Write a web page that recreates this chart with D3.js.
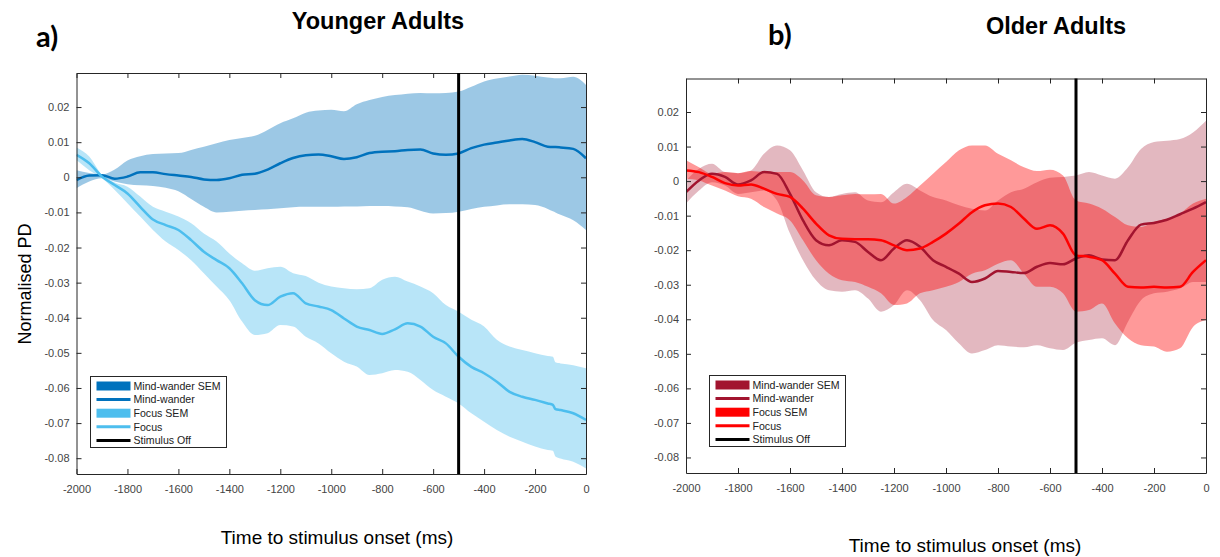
<!DOCTYPE html>
<html>
<head>
<meta charset="utf-8">
<script src="https://cdn.jsdelivr.net/npm/d3@7"></script>
<style>
  html, body { margin: 0; padding: 0; background: #fff; }
  svg { display: block; }
  .tick text { font-family: "Liberation Sans", Arial, sans-serif; font-size: 11px; fill: #444; }
  .tick line, .domain { stroke: #262626; }
</style>
</head>
<body>
<svg id="chart" width="1220" height="557"></svg>
<script>
// ---------- shared axis ticks ----------
const xTickValues = [-2000, -1800, -1600, -1400, -1200, -1000, -800, -600, -400, -200, 0];
const xTickLabels = ["-2000", "-1800", "-1600", "-1400", "-1200", "-1000", "-800", "-600", "-400", "-200", "0"];
const yTickValues = [0.02, 0.01, 0, -0.01, -0.02, -0.03, -0.04, -0.05, -0.06, -0.07, -0.08];
const yTickLabels = ["0.02", "0.01", "0", "-0.01", "-0.02", "-0.03", "-0.04", "-0.05", "-0.06", "-0.07", "-0.08"];
const stimulusOff = -500;
const legendLabels = ["Mind-wander SEM", "Mind-wander", "Focus SEM", "Focus", "Stimulus Off"];

// ---------- a) Younger adults ----------
const timeYoung = [-2000, -1950, -1900, -1850, -1800, -1750, -1700, -1650, -1600, -1550,
  -1500, -1450, -1400, -1350, -1300, -1250, -1200, -1150, -1100, -1050,
  -1000, -950, -900, -850, -800, -750, -700, -650, -600, -550,
  -500, -450, -400, -350, -300, -250, -200, -150, -130, -120, -100, -50, 0];
const youngMW = [-0.0008, 0.0005, 0.0006, -0.0004, 0.0002, 0.0014, 0.0014, 0.0009, 0.0005, 0.0001,
  -0.0006, -0.0008, -0.0003, 0.0007, 0.0010, 0.0022, 0.0040, 0.0055, 0.0063, 0.0065,
  0.0060, 0.0052, 0.0057, 0.0069, 0.0073, 0.0074, 0.0078, 0.0079, 0.0068, 0.0064,
  0.0068, 0.0083, 0.0093, 0.0099, 0.0105, 0.0109, 0.0100, 0.0087, 0.0086, 0.0086, 0.0085, 0.0081, 0.0054];
const youngMWUpper = [0.0020, 0.0012, 0.0008, 0.0022, 0.0048, 0.0060, 0.0066, 0.0068, 0.0069, 0.0078,
  0.0087, 0.0097, 0.0106, 0.0112, 0.0118, 0.0135, 0.0154, 0.0168, 0.0184, 0.0190,
  0.0192, 0.0188, 0.0208, 0.0220, 0.0229, 0.0234, 0.0238, 0.0240, 0.0239, 0.0240,
  0.0244, 0.0258, 0.0273, 0.0281, 0.0287, 0.0292, 0.0289, 0.0284, 0.0283, 0.0282, 0.0282, 0.0286, 0.0263];
const youngMWLower = [-0.0031, -0.0012, -0.0003, -0.0012, -0.0020, -0.0023, -0.0025, -0.0030, -0.0040, -0.0062,
  -0.0084, -0.0100, -0.0098, -0.0095, -0.0093, -0.0091, -0.0088, -0.0085, -0.0084, -0.0084,
  -0.0084, -0.0083, -0.0083, -0.0082, -0.0082, -0.0083, -0.0085, -0.0095, -0.0103, -0.0102,
  -0.0098, -0.0090, -0.0084, -0.0080, -0.0077, -0.0077, -0.0079, -0.0090, -0.0097, -0.0100, -0.0107, -0.0122, -0.0150];
const youngFocus = [0.0064, 0.0040, 0.0002, -0.0022, -0.0046, -0.0084, -0.0120, -0.0136, -0.0150, -0.0179,
  -0.0212, -0.0236, -0.0259, -0.0302, -0.0350, -0.0364, -0.0340, -0.0330, -0.0359, -0.0368,
  -0.0378, -0.0402, -0.0425, -0.0435, -0.0446, -0.0433, -0.0416, -0.0425, -0.0454, -0.0473,
  -0.0511, -0.0540, -0.0558, -0.0582, -0.0611, -0.0625, -0.0634, -0.0644, -0.0648, -0.0660, -0.0663, -0.0672, -0.0691];
const youngFocusUpper = [0.0085, 0.0059, 0.0007, -0.0015, -0.0027, -0.0055, -0.0084, -0.0098, -0.0112, -0.0131,
  -0.0160, -0.0183, -0.0217, -0.0245, -0.0266, -0.0259, -0.0255, -0.0273, -0.0281, -0.0300,
  -0.0311, -0.0316, -0.0319, -0.0316, -0.0292, -0.0283, -0.0297, -0.0311, -0.0330, -0.0364,
  -0.0383, -0.0406, -0.0425, -0.0463, -0.0482, -0.0492, -0.0501, -0.0509, -0.0511, -0.0527, -0.0530, -0.0535, -0.0544];
const youngFocusLower = [0.0049, 0.0020, -0.0003, -0.0036, -0.0074, -0.0112, -0.0150, -0.0183, -0.0207, -0.0236,
  -0.0273, -0.0311, -0.0350, -0.0411, -0.0449, -0.0444, -0.0421, -0.0425, -0.0454, -0.0473,
  -0.0501, -0.0525, -0.0539, -0.0563, -0.0558, -0.0549, -0.0554, -0.0577, -0.0606, -0.0625,
  -0.0644, -0.0672, -0.0696, -0.0720, -0.0739, -0.0753, -0.0767, -0.0777, -0.0779, -0.0795, -0.0801, -0.0810, -0.0829];

// ---------- b) Older adults ----------
const timeOld = [-2000, -1950, -1900, -1850, -1800, -1750, -1700, -1650, -1600, -1550,
  -1500, -1450, -1400, -1350, -1300, -1250, -1200, -1150, -1100, -1050,
  -1000, -950, -900, -850, -800, -750, -700, -650, -600, -550,
  -500, -450, -400, -350, -300, -250, -200, -150, -100, -50, 0];
const oldMW = [-0.0032, 0.0002, 0.0021, 0.0012, -0.0010, 0.0002, 0.0026, 0.0021, -0.0037, -0.0114,
  -0.0171, -0.0186, -0.0171, -0.0176, -0.0205, -0.0229, -0.0195, -0.0171, -0.0190, -0.0229,
  -0.0248, -0.0268, -0.0292, -0.0282, -0.0260, -0.0263, -0.0266, -0.0248, -0.0237, -0.0241,
  -0.0224, -0.0215, -0.0227, -0.0229, -0.0171, -0.0126, -0.0121, -0.0112, -0.0096, -0.0080, -0.0061];
const oldMWUpper = [0.0002, 0.0036, 0.0050, 0.0026, 0.0023, 0.0031, 0.0079, 0.0103, 0.0089, 0.0031,
  -0.0032, -0.0046, -0.0037, -0.0032, -0.0056, -0.0061, -0.0032, -0.0008, -0.0027, -0.0046,
  -0.0056, -0.0070, -0.0080, -0.0085, -0.0056, -0.0032, -0.0022, -0.0003, 0.0010, 0.0012,
  0.0016, 0.0026, 0.0016, 0.0007, 0.0040, 0.0093, 0.0113, 0.0117, 0.0122, 0.0141, 0.0175];
const oldMWLower = [-0.0065, -0.0027, -0.0003, -0.0013, -0.0037, -0.0032, -0.0027, -0.0056, -0.0152, -0.0229,
  -0.0287, -0.0316, -0.0320, -0.0316, -0.0340, -0.0378, -0.0359, -0.0316, -0.0345, -0.0402,
  -0.0431, -0.0470, -0.0499, -0.0489, -0.0475, -0.0479, -0.0481, -0.0475, -0.0484, -0.0489,
  -0.0468, -0.0460, -0.0455, -0.0475, -0.0407, -0.0345, -0.0325, -0.0320, -0.0311, -0.0292, -0.0292];
const oldFocus = [0.0031, 0.0026, 0.0012, -0.0006, -0.0013, -0.0010, -0.0022, -0.0037, -0.0046, -0.0080,
  -0.0123, -0.0157, -0.0167, -0.0168, -0.0168, -0.0171, -0.0186, -0.0200, -0.0195, -0.0176,
  -0.0152, -0.0123, -0.0090, -0.0070, -0.0065, -0.0075, -0.0109, -0.0138, -0.0128, -0.0152,
  -0.0215, -0.0219, -0.0229, -0.0268, -0.0306, -0.0308, -0.0306, -0.0308, -0.0306, -0.0263, -0.0229];
const oldFocusUpper = [0.0060, 0.0040, 0.0021, 0.0026, 0.0023, 0.0029, 0.0026, 0.0026, 0.0026, 0.0002,
  -0.0041, -0.0046, -0.0041, -0.0037, -0.0038, -0.0037, -0.0065, -0.0046, -0.0013, 0.0021,
  0.0055, 0.0089, 0.0103, 0.0103, 0.0079, 0.0060, 0.0040, 0.0029, 0.0033, 0.0016,
  -0.0056, -0.0065, -0.0080, -0.0104, -0.0128, -0.0133, -0.0118, -0.0109, -0.0094, -0.0065, -0.0051];
const oldFocusLower = [0.0007, 0.0002, -0.0013, -0.0027, -0.0044, -0.0051, -0.0075, -0.0094, -0.0114, -0.0171,
  -0.0229, -0.0268, -0.0287, -0.0292, -0.0306, -0.0325, -0.0359, -0.0354, -0.0325, -0.0316,
  -0.0306, -0.0292, -0.0268, -0.0258, -0.0239, -0.0229, -0.0268, -0.0306, -0.0306, -0.0325,
  -0.0378, -0.0373, -0.0354, -0.0412, -0.0455, -0.0475, -0.0479, -0.0494, -0.0484, -0.0422, -0.0402];

// ---------- drawing ----------
const svg = d3.select("#chart");
const font = '"Liberation Sans", Arial, Helvetica, sans-serif';

function drawPanel(cfg) {
  const x = d3.scaleLinear().domain([-2000, 0]).range([cfg.left, cfg.right]);
  const y = d3.scaleLinear().domain([-0.0845, 0.0297]).range([cfg.bottom, cfg.top]);
  const g = svg.append("g");

  const clipId = "clip-" + cfg.id;
  svg.append("clipPath").attr("id", clipId)
    .append("rect").attr("x", cfg.left).attr("y", cfg.top)
    .attr("width", cfg.right - cfg.left).attr("height", cfg.bottom - cfg.top);
  const plot = g.append("g").attr("clip-path", `url(#${clipId})`);

  const idx = d3.range(cfg.time.length);
  const band = (lo, hi) => d3.area().curve(d3.curveMonotoneX)
    .x(i => x(cfg.time[i])).y0(i => y(lo[i])).y1(i => y(hi[i]));
  const line = vals => d3.line().curve(d3.curveMonotoneX)
    .x(i => x(cfg.time[i])).y(i => y(vals[i]));

  plot.append("path").attr("d", band(cfg.mwLower, cfg.mwUpper)(idx))
    .attr("fill", cfg.mwColor).attr("fill-opacity", cfg.mwAlpha);
  plot.append("path").attr("d", band(cfg.fLower, cfg.fUpper)(idx))
    .attr("fill", cfg.fColor).attr("fill-opacity", cfg.fAlpha);
  plot.append("path").attr("d", line(cfg.mw)(idx))
    .attr("fill", "none").attr("stroke", cfg.mwColor).attr("stroke-width", 2.5);
  plot.append("path").attr("d", line(cfg.focus)(idx))
    .attr("fill", "none").attr("stroke", cfg.fColor).attr("stroke-width", 2.5);

  // axes (MATLAB-style box with inward ticks)
  const fmtX = d => xTickLabels[xTickValues.indexOf(d)];
  const fmtY = d => yTickLabels[yTickValues.indexOf(d)];
  g.append("g").attr("transform", `translate(0,${cfg.bottom})`)
    .call(d3.axisBottom(x).tickValues(xTickValues).tickFormat(fmtX).tickSizeInner(-5).tickSizeOuter(0).tickPadding(11));
  g.append("g").attr("transform", `translate(0,${cfg.top})`)
    .call(d3.axisTop(x).tickValues(xTickValues).tickFormat("").tickSizeInner(-5).tickSizeOuter(0));
  g.append("g").attr("transform", `translate(${cfg.left},0)`)
    .call(d3.axisLeft(y).tickValues(yTickValues).tickFormat(fmtY).tickSizeInner(-5).tickSizeOuter(0).tickPadding(7));
  g.append("g").attr("transform", `translate(${cfg.right},0)`)
    .call(d3.axisRight(y).tickValues(yTickValues).tickFormat("").tickSizeInner(-5).tickSizeOuter(0));
  g.selectAll(".tick text").attr("font-family", null).attr("font-size", null);

  // stimulus-off marker
  g.append("line")
    .attr("x1", x(stimulusOff)).attr("x2", x(stimulusOff))
    .attr("y1", cfg.top).attr("y2", cfg.bottom)
    .attr("stroke", "#000").attr("stroke-width", 3);

  // legend
  const lg = g.append("g").attr("transform", `translate(${cfg.legX},${cfg.legY})`);
  const rowH = 13.6, lw = 136, lh = 71;
  lg.append("rect").attr("width", lw).attr("height", lh)
    .attr("fill", "#fff").attr("stroke", "#262626").attr("stroke-width", 1);
  const swatch = [
    { type: "patch", color: cfg.mwColor },
    { type: "line", color: cfg.mwColor },
    { type: "patch", color: cfg.fColor },
    { type: "line", color: cfg.fColor },
    { type: "line", color: "#000" }
  ];
  legendLabels.forEach((lab, i) => {
    const cy = 9.5 + i * rowH;
    const s = swatch[i];
    if (s.type === "patch") {
      lg.append("rect").attr("x", 6).attr("y", cy - 4.5).attr("width", 34).attr("height", 9).attr("fill", s.color);
    } else {
      lg.append("line").attr("x1", 6).attr("x2", 40).attr("y1", cy).attr("y2", cy)
        .attr("stroke", s.color).attr("stroke-width", 3);
    }
    lg.append("text").attr("x", 43).attr("y", cy + 3.8)
      .attr("font-family", font).attr("font-size", 10.6).attr("fill", "#222").text(lab);
  });

  // titles and axis labels
  svg.append("text").attr("x", cfg.titleX).attr("y", cfg.titleY).attr("text-anchor", "middle")
    .attr("font-family", font).attr("font-weight", "bold").attr("font-size", 23.5).attr("fill", "#000")
    .text(cfg.title);
  svg.append("text").attr("x", cfg.tagX).attr("y", cfg.tagY)
    .attr("font-family", 'Lato, "Open Sans", sans-serif').attr("font-weight", "bold").attr("font-size", 29).attr("fill", "#000")
    .text(cfg.tag);
  svg.append("text").attr("x", cfg.xLabX).attr("y", cfg.xLabY).attr("text-anchor", "middle")
    .attr("font-family", font).attr("font-size", 19).attr("fill", "#000")
    .text("Time to stimulus onset (ms)");
}

drawPanel({
  id: "young", left: 76.5, right: 586, top: 73, bottom: 474,
  time: timeYoung, mw: youngMW, mwUpper: youngMWUpper, mwLower: youngMWLower,
  focus: youngFocus, fUpper: youngFocusUpper, fLower: youngFocusLower,
  mwColor: "#0072BD", mwAlpha: 0.39, fColor: "#4DBEEE", fAlpha: 0.4,
  legX: 90.5, legY: 376.5,
  title: "Younger Adults", titleX: 378, titleY: 29, tag: "a)", tagX: 36, tagY: 47,
  xLabX: 337, xLabY: 544
});

drawPanel({
  id: "old", left: 686, right: 1206, top: 78.5, bottom: 473,
  time: timeOld, mw: oldMW, mwUpper: oldMWUpper, mwLower: oldMWLower,
  focus: oldFocus, fUpper: oldFocusUpper, fLower: oldFocusLower,
  mwColor: "#A2142F", mwAlpha: 0.3, fColor: "#FF0000", fAlpha: 0.4,
  legX: 709.5, legY: 375.5,
  title: "Older Adults", titleX: 1056, titleY: 34, tag: "b)", tagX: 768, tagY: 45,
  xLabX: 965, xLabY: 552
});

// shared y-axis label
svg.append("text")
  .attr("transform", "translate(31,284) rotate(-90)")
  .attr("text-anchor", "middle")
  .attr("font-family", font).attr("font-size", 18).attr("fill", "#000")
  .text("Normalised PD");
</script>
</body>
</html>
